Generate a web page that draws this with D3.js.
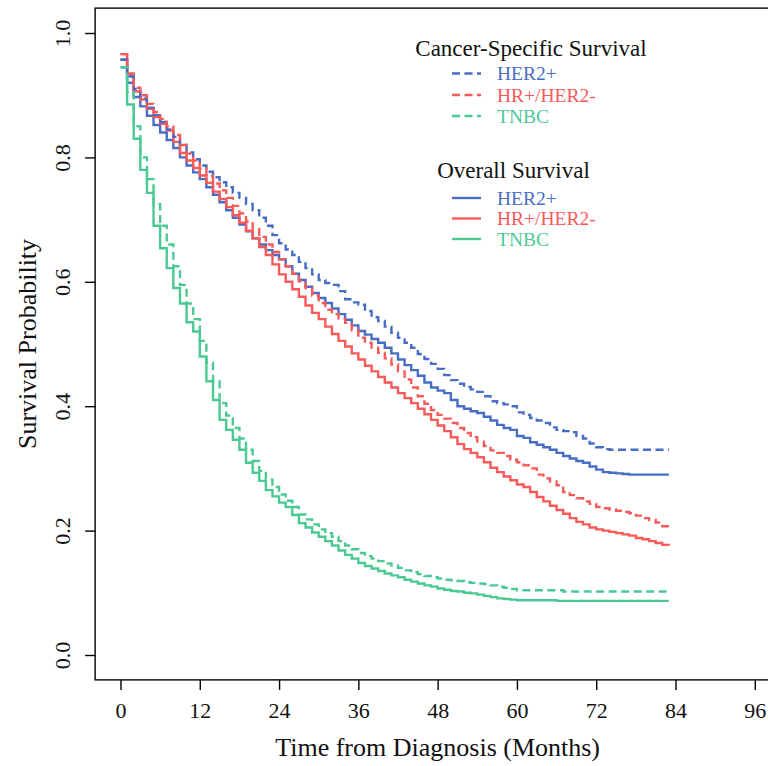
<!DOCTYPE html>
<html>
<head>
<meta charset="utf-8">
<script src="https://cdn.jsdelivr.net/npm/d3@7"></script>
<style>
body { margin: 0; background: #fff; }
svg { display: block; font-family: "Liberation Serif", "Times New Roman", serif; }
</style>
</head>
<body>
<svg id="chart" width="768" height="766"></svg>
<script>
// survival curves
var months = [0,1,2,3,4,5,6,7,8,9,10,11,12,13,14,15,16,17,18,19,20,21,22,23,24,25,26,27,28,29,
  30,31,32,33,34,35,36,37,38,39,40,41,42,43,44,45,46,47,48,49,50,51,52,53,54,55,56,57,58,59,
  60,61,62,63,64,65,66,67,68,69,70,71,72,73,74,75,76,77,78,79,80,81,82,83];

var groups = ["HER2+", "HR+/HER2-", "TNBC"];
var colors = ["#476dc4", "#f85a5a", "#4bc995"];

var xTicks = [0, 12, 24, 36, 48, 60, 72, 84, 96];
var yTicks = [0, 0.2, 0.4, 0.6, 0.8, 1.0];

var her2CSS = [0.957,0.930,0.910,0.895,0.880,0.868,0.857,0.845,0.833,0.820,
  0.808,0.797,0.787,0.777,0.768,0.760,0.752,0.743,0.735,0.725,
  0.715,0.703,0.690,0.675,0.662,0.652,0.643,0.632,0.622,0.612,
  0.603,0.598,0.595,0.585,0.572,0.567,0.563,0.553,0.543,0.537,
  0.528,0.518,0.510,0.502,0.494,0.484,0.476,0.468,0.460,0.450,
  0.442,0.436,0.431,0.427,0.423,0.416,0.408,0.405,0.403,0.400,
  0.390,0.386,0.381,0.377,0.373,0.366,0.362,0.360,0.358,0.352,
  0.348,0.340,0.334,0.331,0.330,0.330,0.330,0.330,0.330,0.330,
  0.330,0.330,0.330,0.330];

var her2OS = [0.957,0.920,0.897,0.882,0.867,0.852,0.840,0.828,0.815,0.800,
  0.787,0.776,0.765,0.752,0.740,0.728,0.715,0.703,0.692,0.681,
  0.670,0.660,0.651,0.643,0.636,0.625,0.613,0.603,0.592,0.582,
  0.574,0.566,0.557,0.548,0.539,0.530,0.521,0.515,0.508,0.502,
  0.494,0.485,0.475,0.466,0.458,0.449,0.438,0.430,0.425,0.421,
  0.410,0.400,0.396,0.392,0.389,0.383,0.377,0.370,0.365,0.362,
  0.352,0.349,0.342,0.338,0.334,0.330,0.325,0.320,0.316,0.312,
  0.309,0.303,0.298,0.294,0.293,0.292,0.291,0.290,0.290,0.290,
  0.290,0.290,0.290,0.290];

var hrCSS = [0.966,0.935,0.912,0.900,0.886,0.873,0.862,0.850,0.836,0.820,
  0.806,0.795,0.782,0.770,0.758,0.747,0.735,0.722,0.710,0.697,
  0.685,0.672,0.660,0.648,0.636,0.625,0.613,0.601,0.590,0.578,
  0.566,0.555,0.548,0.541,0.534,0.522,0.510,0.502,0.494,0.486,
  0.477,0.467,0.456,0.443,0.430,0.416,0.404,0.394,0.386,0.380,
  0.373,0.365,0.357,0.350,0.343,0.336,0.329,0.325,0.320,0.314,
  0.310,0.305,0.300,0.290,0.284,0.279,0.273,0.262,0.257,0.252,
  0.247,0.243,0.238,0.236,0.234,0.232,0.230,0.228,0.224,0.220,
  0.217,0.213,0.207,0.206];

var hrOS = [0.966,0.932,0.906,0.893,0.878,0.865,0.854,0.843,0.825,0.807,
  0.795,0.783,0.771,0.759,0.745,0.733,0.720,0.707,0.695,0.682,
  0.670,0.656,0.643,0.628,0.612,0.600,0.588,0.576,0.562,0.550,
  0.540,0.528,0.516,0.505,0.496,0.485,0.475,0.465,0.456,0.447,
  0.438,0.430,0.421,0.413,0.405,0.396,0.387,0.378,0.369,0.360,
  0.350,0.339,0.331,0.325,0.318,0.310,0.301,0.294,0.287,0.281,
  0.274,0.270,0.262,0.254,0.247,0.240,0.233,0.227,0.220,0.214,
  0.210,0.205,0.202,0.200,0.198,0.196,0.194,0.192,0.188,0.186,
  0.183,0.180,0.177,0.176];

var tnbcCSS = [0.945,0.905,0.850,0.800,0.765,0.725,0.690,0.660,0.625,0.595,
  0.565,0.540,0.505,0.470,0.440,0.405,0.385,0.365,0.348,0.330,
  0.312,0.296,0.282,0.270,0.258,0.248,0.238,0.226,0.218,0.210,
  0.202,0.196,0.190,0.183,0.176,0.170,0.164,0.159,0.155,0.151,
  0.147,0.144,0.140,0.136,0.133,0.130,0.127,0.125,0.123,0.121,
  0.120,0.119,0.117,0.116,0.115,0.114,0.112,0.110,0.108,0.106,
  0.104,0.104,0.104,0.104,0.104,0.104,0.104,0.102,0.102,0.102,
  0.102,0.102,0.102,0.102,0.102,0.102,0.102,0.102,0.102,0.102,
  0.102,0.102,0.102,0.102];

var tnbcOS = [0.945,0.885,0.830,0.780,0.743,0.690,0.654,0.622,0.590,0.565,
  0.535,0.520,0.480,0.440,0.410,0.378,0.362,0.346,0.330,0.309,
  0.293,0.280,0.265,0.255,0.245,0.238,0.225,0.212,0.205,0.197,
  0.190,0.183,0.176,0.168,0.161,0.155,0.148,0.143,0.139,0.135,
  0.131,0.128,0.125,0.121,0.118,0.115,0.112,0.110,0.107,0.105,
  0.103,0.102,0.100,0.099,0.097,0.095,0.093,0.091,0.090,0.089,
  0.088,0.088,0.088,0.088,0.088,0.088,0.087,0.087,0.087,0.087,
  0.087,0.087,0.087,0.087,0.087,0.087,0.087,0.087,0.087,0.087,
  0.087,0.087,0.087,0.087];

var cssSeries = [her2CSS, hrCSS, tnbcCSS];
var osSeries = [her2OS, hrOS, tnbcOS];

// SETUP
var svg = d3.select("#chart");
var dash = "8,4.5";

var x = d3.scaleLinear().domain([0, 96]).range([120.5, 754.8]);
var y = d3.scaleLinear().domain([0, 1]).range([655, 33]);

// R style box: 4% past the data range on every side
var x0 = x(-3.84), x1 = x(99.84), y0 = y(-0.04), y1 = y(1.04);

var line = d3.line()
    .x(function(d, i) { return x(months[i]); })
    .y(function(d) { return y(d); })
    .curve(d3.curveStepAfter);

// curves
var plot = svg.append("g");
osSeries.forEach(function(s, i) {
  plot.append("path").datum(s)
    .attr("d", line)
    .attr("fill", "none")
    .attr("stroke", colors[i])
    .attr("stroke-width", 2.4);
});
cssSeries.forEach(function(s, i) {
  plot.append("path").datum(s)
    .attr("d", line)
    .attr("fill", "none")
    .attr("stroke", colors[i])
    .attr("stroke-width", 2.4)
    .attr("stroke-dasharray", dash);
});

// box
svg.append("rect")
  .attr("x", x0).attr("y", y1)
  .attr("width", x1 - x0).attr("height", y0 - y1)
  .attr("fill", "none").attr("stroke", "#000").attr("stroke-width", 1.4);

// x axis
var xAxis = svg.append("g")
  .attr("transform", "translate(0," + y0 + ")")
  .call(d3.axisBottom(x).tickValues(xTicks).tickSize(10).tickPadding(13).tickSizeOuter(0));
xAxis.attr("font-family", null).attr("font-size", 22);
xAxis.select(".domain").remove();
xAxis.selectAll("line").attr("stroke-width", 1.4);
xAxis.selectAll("text").attr("fill", "#111");

// y axis, labels turned like R's las=0
var yAxis = svg.append("g")
  .attr("transform", "translate(" + x0 + ",0)")
  .call(d3.axisLeft(y).tickValues(yTicks).tickSize(10).tickFormat(d3.format(".1f")));
yAxis.attr("font-family", null).attr("font-size", 22);
yAxis.select(".domain").remove();
yAxis.selectAll("line").attr("stroke-width", 1.4);
yAxis.selectAll("text")
  .attr("x", null).attr("dy", "0.34em")
  .attr("text-anchor", "middle")
  .attr("transform", "translate(-33,0) rotate(-90)")
  .attr("fill", "#111");

// axis titles
svg.append("text")
  .attr("x", (x0 + x1) / 2).attr("y", 756)
  .attr("text-anchor", "middle").attr("font-size", 26).attr("fill", "#111")
  .text("Time from Diagnosis (Months)");

svg.append("text")
  .attr("transform", "translate(36," + ((y0 + y1) / 2) + ") rotate(-90)")
  .attr("text-anchor", "middle").attr("font-size", 26).attr("fill", "#111")
  .text("Survival Probability");

// legends
function drawLegend(title, titleX, titleY, rowY, dashed) {
  var g = svg.append("g");
  g.append("text")
    .attr("x", titleX).attr("y", titleY)
    .attr("text-anchor", "middle").attr("font-size", 23).attr("fill", "#111")
    .text(title);
  groups.forEach(function(name, i) {
    var ly = rowY[i];
    g.append("line")
      .attr("x1", 452).attr("x2", 481)
      .attr("y1", ly).attr("y2", ly)
      .attr("stroke", colors[i]).attr("stroke-width", 2.4)
      .attr("stroke-dasharray", dashed ? dash : null);
    g.append("text")
      .attr("x", 497).attr("y", ly + 6.5)
      .attr("font-size", 19.5).attr("fill", colors[i])
      .text(name);
  });
}

drawLegend("Cancer-Specific Survival", 531, 56, [73.5, 95, 116], true);
drawLegend("Overall Survival", 513.5, 178, [198, 218.5, 239], false);
</script>
</body>
</html>
